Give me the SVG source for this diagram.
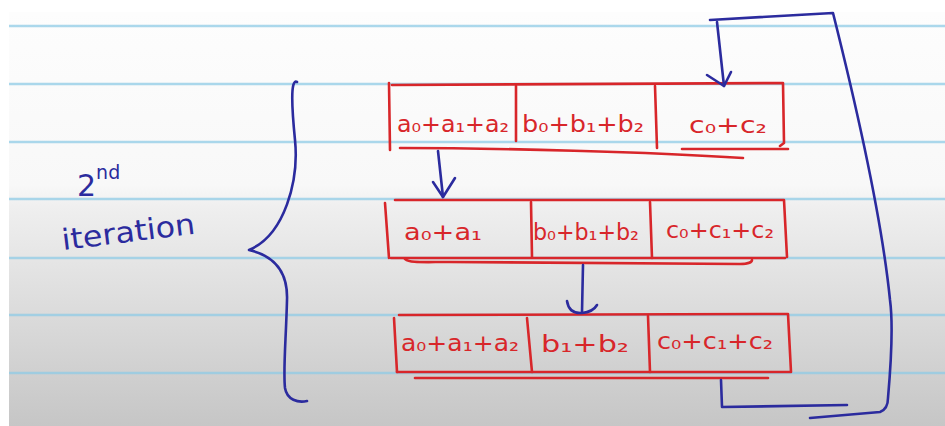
<svg xmlns="http://www.w3.org/2000/svg" width="945" height="426" viewBox="0 0 945 426">
  <defs>
    <linearGradient id="bg" x1="0" y1="0" x2="0" y2="1">
      <stop offset="0" stop-color="#fdfdfd"/>
      <stop offset="0.42" stop-color="#f8f8f8"/>
      <stop offset="0.47" stop-color="#efefef"/>
      <stop offset="1" stop-color="#c6c6c6"/>
    </linearGradient>
    <style>
      .rule { stroke: #8fcbe6; stroke-opacity: 0.75; stroke-width: 2.5; fill: none; }
      .red { stroke: #d8262a; stroke-width: 2.6; fill: none; stroke-linecap: round; stroke-linejoin: round; }
      .blue { stroke: #2b2b9e; stroke-width: 2.6; fill: none; stroke-linecap: round; stroke-linejoin: round; }
      .rt { fill: #d8262a; font-family: "DejaVu Sans", "Noto Sans", sans-serif; font-size: 23px; text-anchor: middle; }
      .bt { fill: #2b2b9e; font-family: "DejaVu Sans", "Noto Sans", sans-serif; }
    </style>
  </defs>

  <rect x="0" y="0" width="945" height="426" fill="#ffffff"/>
  <rect x="9" y="12" width="936" height="414" fill="url(#bg)"/>
  <g id="ruled-lines">
    <line class="rule" x1="9" y1="26" x2="945" y2="26"/>
    <line class="rule" x1="9" y1="84" x2="945" y2="84"/>
    <line class="rule" x1="9" y1="142" x2="945" y2="142"/>
    <line class="rule" x1="9" y1="199" x2="945" y2="199"/>
    <line class="rule" x1="9" y1="258" x2="945" y2="258"/>
    <line class="rule" x1="9" y1="315" x2="945" y2="315"/>
    <line class="rule" x1="9" y1="373" x2="945" y2="373"/>
  </g>

  <g id="label">
    <text class="bt" x="77" y="196" font-size="30">2<tspan font-size="19" dy="-17">nd</tspan></text>
    <text class="bt" x="63" y="250" font-size="29" textLength="134" lengthAdjust="spacingAndGlyphs" transform="rotate(-7 63 250)">iteration</text>
  </g>

  <g id="brace">
    <path class="blue" d="M297,82 C290,78 292,110 295,140 C299,180 285,235 249,250 C275,256 288,272 287,300 C286,340 283,370 285,388 C287,400 298,403 307,401"/>
  </g>

  <g id="row1">
    <path class="red" d="M389,83 L390,150"/>
    <path class="red" d="M392,85 L783,83 L784,143 L780,146"/>
    <path class="red" d="M516,86 L516,141"/>
    <path class="red" d="M655,86 L657,148"/>
    <path class="red" d="M400,148 C500,148 650,152 743,158"/>
    <path class="red" d="M682,149 L788,149"/>
    <text class="rt" x="453" y="132" textLength="112" lengthAdjust="spacingAndGlyphs">a₀+a₁+a₂</text>
    <text class="rt" x="583" y="132" textLength="122" lengthAdjust="spacingAndGlyphs">b₀+b₁+b₂</text>
    <text class="rt" x="728" y="133" textLength="78" lengthAdjust="spacingAndGlyphs">c₀+c₂</text>
  </g>

  <g id="row2">
    <path class="red" d="M385,203 L389,258"/>
    <path class="red" d="M395,200 L784,200 L787,257"/>
    <path class="red" d="M391,258 L785,258"/>
    <path class="red" d="M531,202 L532,257"/>
    <path class="red" d="M650,202 L652,258"/>
    <path class="red" d="M405,259 C410,263 420,262 450,262 L740,264 C748,264 752,262 752,260"/>
    <text class="rt" x="443" y="240" textLength="78" lengthAdjust="spacingAndGlyphs">a₀+a₁</text>
    <text class="rt" x="586" y="240" textLength="106" lengthAdjust="spacingAndGlyphs">b₀+b₁+b₂</text>
    <text class="rt" x="720" y="238" textLength="108" lengthAdjust="spacingAndGlyphs">c₀+c₁+c₂</text>
  </g>

  <g id="row3">
    <path class="red" d="M394,318 L397,372"/>
    <path class="red" d="M399,315 L788,314 L791,372"/>
    <path class="red" d="M397,372 L790,372"/>
    <path class="red" d="M527,318 L532,372"/>
    <path class="red" d="M648,316 L650,372"/>
    <path class="red" d="M415,378 L768,378"/>
    <text class="rt" x="460" y="351" textLength="118" lengthAdjust="spacingAndGlyphs">a₀+a₁+a₂</text>
    <text class="rt" x="585" y="352" textLength="88" lengthAdjust="spacingAndGlyphs">b₁+b₂</text>
    <text class="rt" x="715" y="349" textLength="116" lengthAdjust="spacingAndGlyphs">c₀+c₁+c₂</text>
  </g>

  <g id="connectors">
    <!-- row1 -> row2 -->
    <path class="blue" d="M438,151 L443,197"/>
    <path class="blue" d="M433,182 L443,197 L455,178"/>
    <!-- row2 -> row3 -->
    <path class="blue" d="M583,265 L582,312"/>
    <path class="blue" d="M567,301 Q569,314 582,313 Q593,312 597,305"/>
    <!-- feedback loop: row3 back to row1 -->
    <path class="blue" d="M721,380 L722,407 L847,405"/>
    <path class="blue" d="M810,418 L880,412 Q888,409 888,398 Q894,330 890,300 Q880,200 833,13 L710,20"/>
    <path class="blue" d="M717,22 L724,86"/>
    <path class="blue" d="M707,75 L724,86 L731,72"/>
  </g>
</svg>
